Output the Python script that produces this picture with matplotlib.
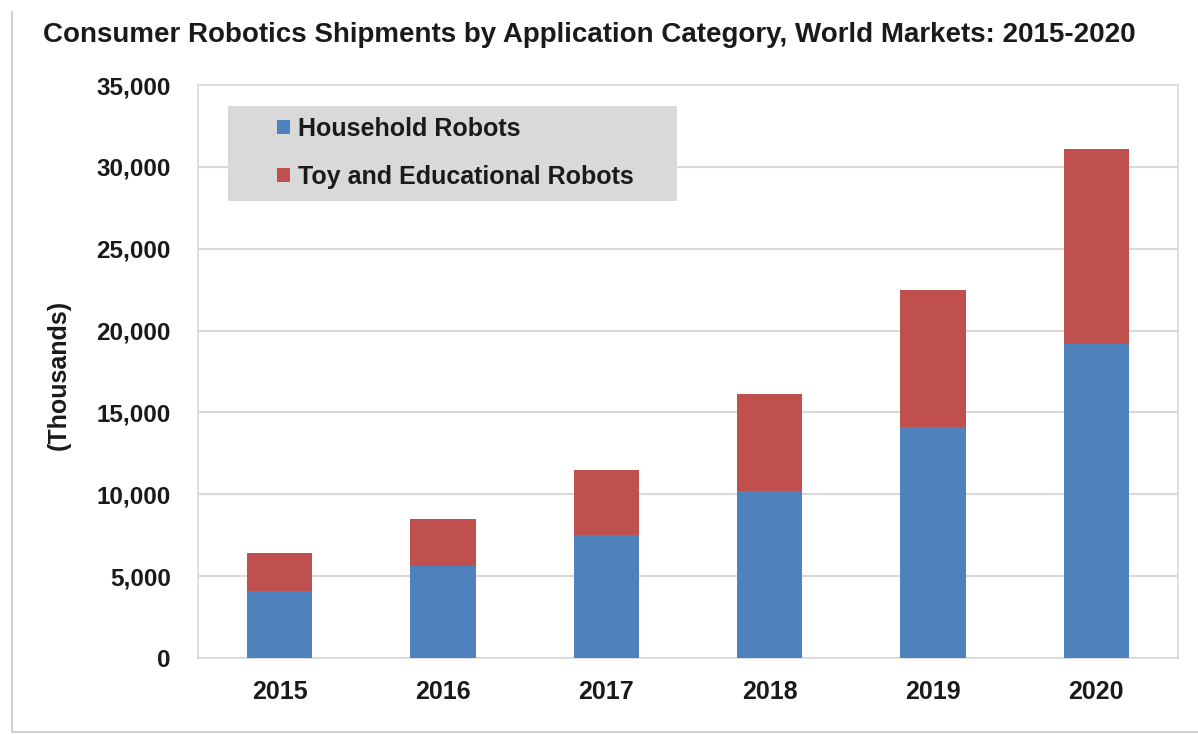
import matplotlib
matplotlib.use("Agg")
import matplotlib.pyplot as plt
from matplotlib.patches import Rectangle, Patch
from matplotlib.lines import Line2D
import numpy as np

plt.rcParams['font.family'] = ['Liberation Sans', 'DejaVu Sans']

years = ["2015", "2016", "2017", "2018", "2019", "2020"]
household = [4100, 5600, 7500, 10200, 14100, 19200]
totals = [6400, 8500, 11500, 16100, 22500, 31100]
toy_edu = [t - h for t, h in zip(totals, household)]
series_names = ["Household Robots", "Toy and Educational Robots"]
colors = ["#4F81BD", "#C0504D"]
yticks = list(range(0, 35001, 5000))

W, H = 1198, 734
fig = plt.figure(figsize=(W / 100, H / 100), dpi=100)
fig.patch.set_facecolor("white")

# outer border (left and bottom)
fig.add_artist(Line2D([12 / W, 12 / W, 1198 / W],
                      [1 - 12 / H, 1 - 732 / H, 1 - 732 / H],
                      transform=fig.transFigure, color="#cfcfcf", linewidth=1.5))

ax = fig.add_axes([198 / W, 1 - 658 / H, (1178 - 198) / W, (658 - 85) / H])
x = np.arange(len(years))
ax.bar(x, household, width=0.4, color=colors[0], zorder=3, label=series_names[0])
ax.bar(x, toy_edu, width=0.4, bottom=household, color=colors[1], zorder=3,
       label=series_names[1])

ax.set_xlim(-0.5, len(years) - 0.5)
ax.set_ylim(0, 35000)
ax.set_yticks(yticks)
ax.set_yticklabels([f"{v:,}" for v in yticks], fontsize=17.5, fontweight="bold",
                   color="#1a1a1a")
ax.set_xticks(x)
ax.set_xticklabels(years, fontsize=18, fontweight="bold", color="#1a1a1a")
ax.tick_params(axis="both", length=0)
ax.tick_params(axis="y", pad=19.5)
ax.tick_params(axis="x", pad=15.5)
ax.yaxis.grid(True, color="#d9d9d9", linewidth=1.5, zorder=0)
ax.set_axisbelow(True)
for s in ax.spines.values():
    s.set_color("#d9d9d9")
    s.set_linewidth(1.2)

fig.text(59 / W, 1 - 375 / H, "(Thousands)", rotation=90, ha="center", va="center",
         fontsize=18, fontweight="bold", color="#1a1a1a")
fig.text(43 / W, 1 - 42 / H, "Consumer Robotics Shipments by Application Category, World Markets: 2015-2020",
         ha="left", va="baseline", fontsize=20, fontweight="bold", color="#1a1a1a")

# legend background box (inside axes so it draws above gridlines, below legend)
ax.add_patch(Rectangle((228 / W, 1 - 201 / H), (677 - 228) / W, (201 - 106) / H,
                       transform=fig.transFigure, facecolor="#d9d9d9",
                       edgecolor="none", zorder=5, clip_on=False))
handles = [Patch(facecolor=c, edgecolor="none") for c in colors]
leg = ax.legend(handles, series_names, loc="upper left",
                bbox_to_anchor=(277 / W, 1 - 117 / H),
                bbox_transform=fig.transFigure, frameon=False,
                handlelength=0.52, handleheight=0.52, handletextpad=0.3,
                labelspacing=0.95, borderpad=0, borderaxespad=0,
                prop={"size": 18, "weight": "bold"})
leg.set_zorder(6)
for t in leg.get_texts():
    t.set_color("#1a1a1a")

fig.savefig("out.png", dpi=100)
